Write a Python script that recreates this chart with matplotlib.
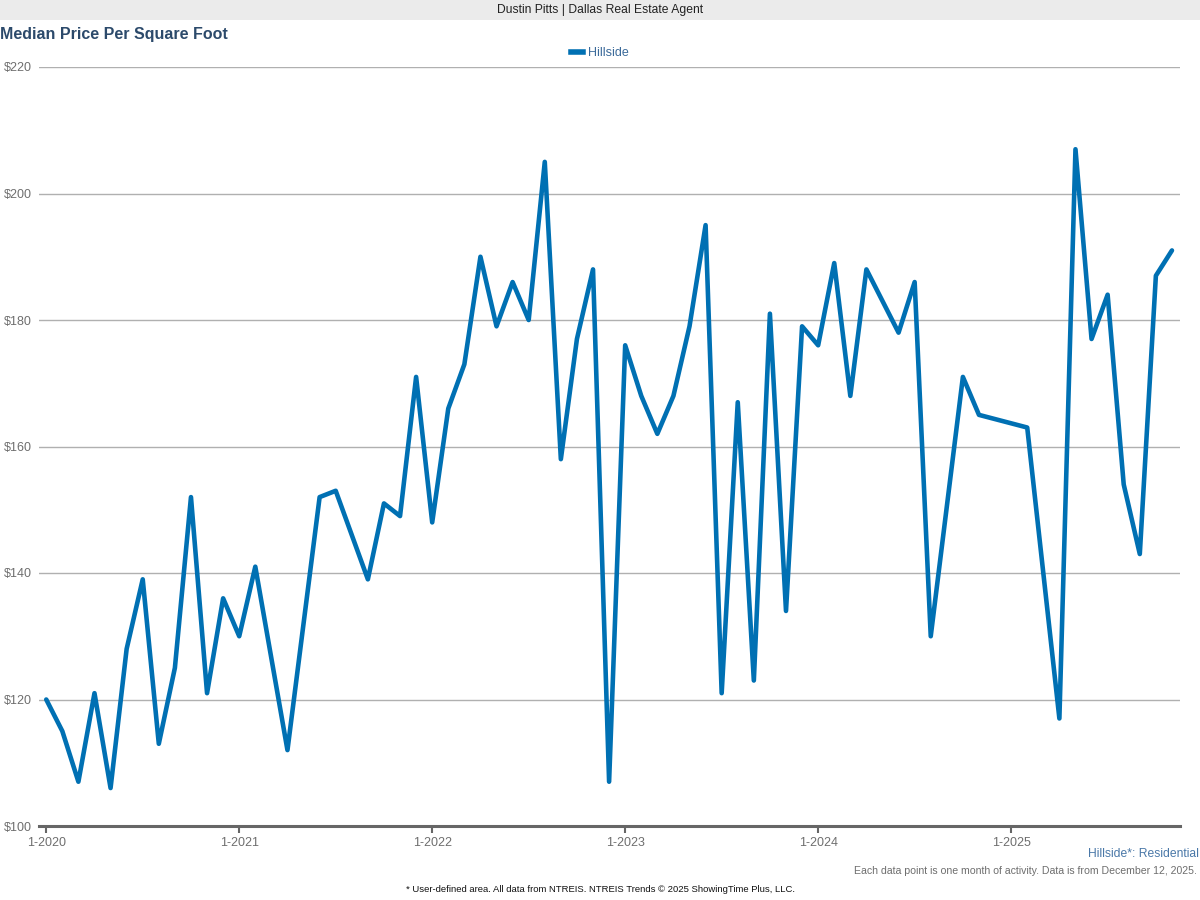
import matplotlib
matplotlib.use("Agg")
import matplotlib.pyplot as plt
import numpy as np

plt.rcParams['font.family'] = ['Liberation Sans', 'DejaVu Sans']

# Monthly median price per sq ft, Jan 2020 .. Nov 2025 (None = no data that month)
values = [
    120, 115, 107, 121, 106, 128, 139, 113, 125, 152, 121, 136,   # 2020
    130, 141, None, 112, None, 152, 153, None, 139, 151, 149, 171,  # 2021
    148, 166, 173, 190, 179, 186, 180, 205, 158, 177, 188, 107,   # 2022
    176, 168, 162, 168, 179, 195, 121, 167, 123, 181, 134, 179,   # 2023
    176, 189, 168, 188, None, 178, 186, 130, None, 171, 165, None,  # 2024
    None, 163, None, 117, 207, 177, 184, 154, 143, 187, 191,       # 2025
]
year_ticks = [0, 12, 24, 36, 48, 60]
year_labels = ["1-2020", "1-2021", "1-2022", "1-2023", "1-2024", "1-2025"]
y_ticks = [100, 120, 140, 160, 180, 200, 220]
y_labels = ["$100", "$120", "$140", "$160", "$180", "$200", "$220"]
series_name = "Hillside"

months = np.array([i for i, v in enumerate(values) if v is not None])
vals = np.array([v for v in values if v is not None], dtype=float)

fig = plt.figure(figsize=(12, 9), dpi=100)
fig.patch.set_facecolor("white")

# header band
fig.patches.append(plt.Rectangle((0, 1 - 20 / 900), 1, 20 / 900, transform=fig.transFigure,
                                 facecolor="#ebebeb", edgecolor="none", zorder=0))
fig.text(0.5, 1 - 10.5 / 900, "Dustin Pitts | Dallas Real Estate Agent", ha="center", va="center",
         fontsize=8.7, color="#222222")
fig.text(0.0, 1 - 35 / 900, "Median Price Per Square Foot", ha="left", va="center",
         fontsize=11.5, fontweight="bold", color="#2c4a6b")

ax = fig.add_axes([39 / 1200, 1 - 826 / 900, (1180 - 39) / 1200, (826 - 67) / 900])
line_color = "#0070b3"
ax.plot(months, vals, color=line_color, lw=3.3, solid_joinstyle="round",
        solid_capstyle="round", label=series_name, zorder=3, clip_on=False)

ax.set_xlim(-0.45, 70.5)
ax.set_ylim(100, 220)
ax.set_yticks(y_ticks)
ax.set_yticklabels(y_labels)
ax.set_xticks(year_ticks)
ax.set_xticklabels(year_labels)
ax.grid(axis="y", color="#b0b0b0", lw=1)
ax.set_axisbelow(True)
for s in ["top", "right", "left"]:
    ax.spines[s].set_visible(False)
ax.spines["bottom"].set_color("#666666")
ax.spines["bottom"].set_linewidth(2.2)
ax.tick_params(axis="y", length=0, pad=5, labelsize=9, labelcolor="#6e6e6e")
ax.tick_params(axis="x", length=5, width=1.5, color="#666666", pad=3, labelsize=9,
               labelcolor="#6e6e6e")
ax.set_facecolor("white")

leg = fig.legend(handles=[plt.Line2D([0], [0], color=line_color, lw=4)], labels=[series_name],
                 loc="center", bbox_to_anchor=(600 / 1200, 1 - 53 / 900), frameon=False,
                 fontsize=9, handlelength=1.0, handletextpad=0.4)
for t in leg.get_texts():
    t.set_color("#3b6a9a")

fig.text(1199 / 1200, 1 - 854 / 900, "Hillside*: Residential", ha="right", va="center",
         fontsize=8.7, color="#4a78a8")
fig.text(1197 / 1200, 1 - 871 / 900,
         "Each data point is one month of activity. Data is from December 12, 2025.",
         ha="right", va="center", fontsize=7.6, color="#6e6e6e")
fig.text(0.5, 1 - 889 / 900,
         "* User-defined area. All data from NTREIS. NTREIS Trends \u00a9 2025 ShowingTime Plus, LLC.",
         ha="center", va="center", fontsize=6.8, color="#111111")

fig.savefig("out.png", dpi=100, facecolor="white")
